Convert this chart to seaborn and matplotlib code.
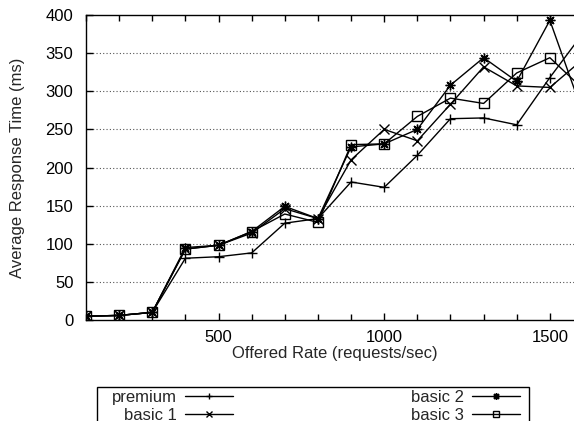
import numpy as np
import pandas as pd
import matplotlib
matplotlib.use("Agg")
import matplotlib.pyplot as plt
from matplotlib.ticker import MultipleLocator
from matplotlib.lines import Line2D
from matplotlib.patches import Rectangle
import seaborn as sns

rates = [100, 200, 300, 400, 500, 600, 700, 800, 900, 1000, 1100, 1200, 1300, 1400, 1500, 1600]
premium = [5, 6, 10, 81, 83, 88, 127, 133, 181, 174, 216, 264, 265, 256, 318, 376]
basic1 = [5, 6, 10, 93, 98, 114, 146, 133, 210, 250, 235, 283, 332, 307, 305, 342]
basic2 = [5, 6, 10, 95, 98, 116, 149, 133, 227, 231, 250, 308, 344, 313, 393, 271]
basic3 = [5, 6, 10, 93, 98, 116, 139, 128, 230, 231, 267, 291, 284, 324, 344, 303]
series_names = ["premium", "basic 1", "basic 2", "basic 3"]

sns.set_style("ticks")
plt.rcParams["font.family"] = ["Liberation Sans", "DejaVu Sans"]

fig = plt.figure(figsize=(5.74, 4.21), dpi=100)
ax = fig.add_axes([86 / 574, 101 / 421, 497 / 574, 305 / 421])

markers = {"premium": "+", "basic 1": "x", "basic 2": (8, 2, 0), "basic 3": "s"}
for name, vals in zip(series_names, [premium, basic1, basic2, basic3]):
    d = pd.DataFrame({"rate": rates, "time": vals})
    sns.lineplot(data=d, x="rate", y="time", ax=ax, color="black",
                 linewidth=1.0, marker=markers[name], markersize=7,
                 markeredgewidth=1.0, markerfacecolor="none",
                 markeredgecolor="black", legend=False)

ax.set_xlim(100, 1600)
ax.set_ylim(0, 400)
ax.xaxis.set_major_locator(MultipleLocator(500))
ax.xaxis.set_minor_locator(MultipleLocator(100))
ax.yaxis.set_major_locator(MultipleLocator(50))
ax.tick_params(axis="both", which="both", direction="in", top=True, right=True,
               labelsize=12, colors="black", width=1.0)
ax.tick_params(axis="both", which="major", length=5)
ax.tick_params(axis="both", which="minor", length=4)
ax.tick_params(axis="x", pad=7)
ax.tick_params(axis="y", pad=9)
for s in ax.spines.values():
    s.set_color("black")
    s.set_linewidth(1.0)
ax.grid(False)
for yv in range(50, 400, 50):
    ax.axhline(yv, color="#555555", linestyle=(0, (1, 2)), linewidth=0.8, zorder=0)

ax.set_xlabel("Offered Rate (requests/sec)", fontsize=12, labelpad=1)
ax.set_ylabel("Average Response Time (ms)", fontsize=12, labelpad=15)

handles = []
for n in series_names:
    handles.append(Line2D([], [], color="black", linewidth=1.0, marker=markers[n],
                          markersize=5, markerfacecolor="none", markeredgecolor="black",
                          markeredgewidth=1.0))
leg = fig.legend(handles, series_names, loc="upper left", ncol=2, mode="expand",
                 bbox_to_anchor=(112 / 574, -0.2, (520 - 112) / 574, 0.2 + (421 - 390) / 421),
                 frameon=False, fontsize=12,
                 markerfirst=False, handlelength=2.9, handletextpad=0.45,
                 labelspacing=0.15, borderpad=0.0, borderaxespad=0, numpoints=1)
for col in leg._legend_handle_box.get_children():
    col.align = "right"

fig.add_artist(Rectangle((97 / 574, -0.1), (529 - 97) / 574, 0.1 + (421 - 387) / 421,
                         transform=fig.transFigure, fill=False, edgecolor="black",
                         linewidth=1.0))

fig.savefig("out.png", dpi=100)
